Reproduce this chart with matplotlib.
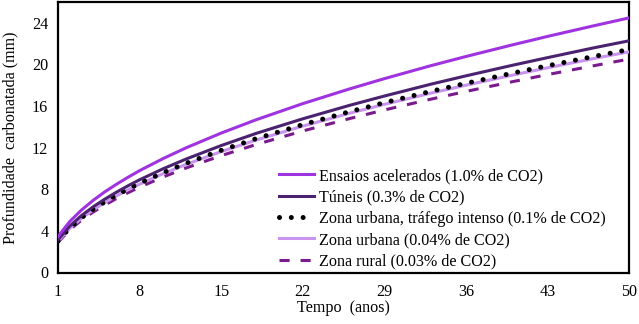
import matplotlib
matplotlib.use("Agg")
import matplotlib.pyplot as plt

plt.rcParams['font.family'] = ['Liberation Serif', 'DejaVu Serif']

anos = [1, 2, 3, 4, 5, 6, 7, 8, 10, 12, 15, 18, 22, 26, 29, 33, 36, 40, 43, 47, 50]
ensaios = [3.46, 4.89, 5.99, 6.92, 7.74, 8.47, 9.15, 9.79, 10.94, 11.99, 13.40, 14.68, 16.23, 17.64, 18.63, 19.88, 20.76, 21.88, 22.69, 23.72, 24.47]
tuneis = [3.15, 4.45, 5.46, 6.30, 7.04, 7.71, 8.33, 8.91, 9.96, 10.91, 12.20, 13.37, 14.77, 16.06, 16.96, 18.10, 18.90, 19.92, 20.65, 21.60, 22.27]
trafego = [3.03, 4.28, 5.25, 6.06, 6.78, 7.42, 8.02, 8.57, 9.58, 10.50, 11.74, 12.86, 14.21, 15.45, 16.32, 17.41, 18.18, 19.16, 19.87, 20.77, 21.43]
urbana = [3.00, 4.24, 5.20, 6.00, 6.71, 7.35, 7.94, 8.49, 9.49, 10.39, 11.62, 12.73, 14.07, 15.30, 16.16, 17.24, 18.00, 18.97, 19.67, 20.57, 21.21]
rural = [2.90, 4.10, 5.02, 5.80, 6.48, 7.10, 7.67, 8.20, 9.17, 10.05, 11.23, 12.30, 13.60, 14.79, 15.62, 16.66, 17.40, 18.34, 19.02, 19.88, 20.51]

labels = ["Ensaios acelerados (1.0% de CO2)",
          "Túneis (0.3% de CO2)",
          "Zona urbana, tráfego intenso (0.1% de CO2)",
          "Zona urbana (0.04% de CO2)",
          "Zona rural (0.03% de CO2)"]
x_ticks = [1, 8, 15, 22, 29, 36, 43, 50]
y_ticks = [0, 4, 8, 12, 16, 20, 24]

fs = 11.6
fig = plt.figure(figsize=(6.39, 3.24), dpi=100)
ax = fig.add_axes([58/639, 1-272.5/324, (629-58)/639, (272.5-2)/324])

lw = 2.2
l1, = ax.plot(anos, ensaios, color='#A033E0', lw=lw, label=labels[0], zorder=5)
l2, = ax.plot(anos, tuneis, color='#4A2270', lw=lw, label=labels[1], zorder=4)
l4, = ax.plot(anos, urbana, color='#C894EE', lw=lw, label=labels[3], zorder=3)
l3, = ax.plot(anos, trafego, color='black', lw=3.6, linestyle=(0, (0.01, 2.35)),
              dash_capstyle='round', label=labels[2], zorder=3.5)
l5, = ax.plot(anos, rural, color='#7A1A8C', lw=lw, linestyle=(0, (3.3, 3.6)),
              label=labels[4], zorder=2.5)

ax.set_xlim(1, 50)
ax.set_ylim(0, 26)
ax.set_xticks(x_ticks)
ax.set_yticks(y_ticks)
ax.tick_params(axis='x', length=0, labelsize=fs, pad=8)
ax.tick_params(axis='y', length=0, labelsize=fs, pad=7)
for s in ax.spines.values():
    s.set_linewidth(1.6)
    s.set_color('black')

ax.set_xlabel("Tempo  (anos)", fontsize=fs, labelpad=0)
ax.set_ylabel("Profundidade  carbonatada (mm)", fontsize=fs, labelpad=10)

leg = ax.legend(handles=[l1, l2, l3, l4, l5], loc='upper left',
                bbox_to_anchor=(279/639, 1-168/324), bbox_transform=fig.transFigure,
                frameon=False, fontsize=fs, borderpad=0, borderaxespad=0,
                handlelength=2.2, handletextpad=0.3, labelspacing=0.33)

fig.savefig("out.png", dpi=100)
